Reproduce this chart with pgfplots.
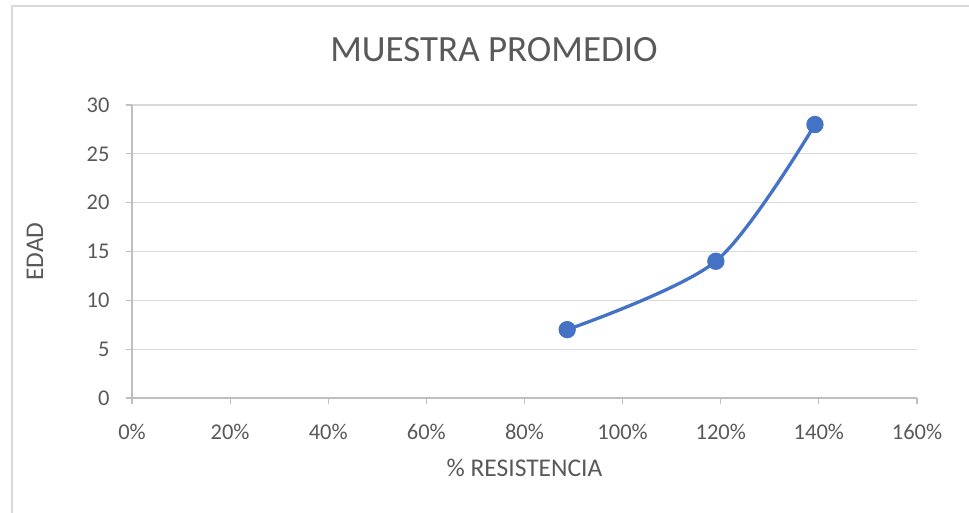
\documentclass[border=0pt]{standalone}
\usepackage{pgfplots}
\pgfplotsset{compat=1.18}
\usepackage{fontspec}
\setmainfont{Carlito}
\definecolor{txt}{HTML}{595959}
\definecolor{gridc}{HTML}{D9D9D9}
\definecolor{axc}{HTML}{BFBFBF}
\definecolor{ser}{HTML}{4472C4}
\begin{document}
\begin{tikzpicture}[x=1pt,y=1pt]
\useasboundingbox (0,0) rectangle (969,513);
\draw[gridc,line width=1.5pt] (12,0) -- (12,507) -- (969,507);
\node[txt,font=\fontsize{37}{41}\selectfont] at (494,463) {MUESTRA PROMEDIO};
\begin{axis}[
  at={(132pt,115pt)}, anchor=south west,
  scale only axis, width=785pt, height=293pt,
  xmin=0, xmax=1.6, ymin=0, ymax=30,
  xtick={0,0.2,0.4,0.6,0.8,1.0,1.2,1.4,1.6},
  xticklabels={0\%,20\%,40\%,60\%,80\%,100\%,120\%,140\%,160\%},
  ytick={0,5,10,15,20,25,30},
  axis x line*=bottom, axis y line*=left,
  axis line style={axc,line width=1.2pt},
  tick align=outside, major tick length=6pt,
  tick style={axc,line width=1.2pt},
  ymajorgrids, grid style={gridc,line width=1.2pt},
  /pgf/number format/assume math mode=true,
  ticklabel style={txt,font=\fontsize{22.5}{26}\selectfont},
  xticklabel style={yshift=-17pt},
  yticklabel style={xshift=-13pt},
  xlabel={\% RESISTENCIA}, ylabel={EDAD},
  label style={txt,font=\fontsize{25.5}{30}\selectfont},
  xlabel style={at={(0.5,0)},anchor=center,yshift=-70pt},
  ylabel style={at={(0,0.5)},anchor=center,rotate=0,yshift=97pt},
  clip=false,
]
\addplot[ser,line width=3.3pt,smooth,tension=0.5,mark=*,mark size=7pt,mark options={fill=ser,draw=ser}]
  coordinates {(0.887,7) (1.19,14) (1.392,28)};
\end{axis}
\end{tikzpicture}
\end{document}
